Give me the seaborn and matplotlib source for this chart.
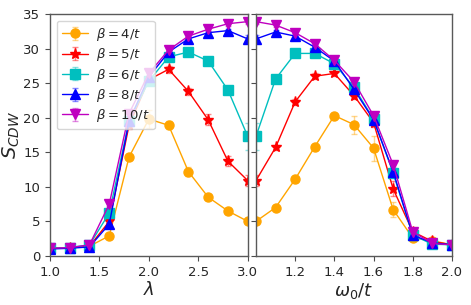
import numpy as np
import matplotlib
matplotlib.use("Agg")
import matplotlib.pyplot as plt
import seaborn as sns

# data
lam = [1.0, 1.2, 1.4, 1.6, 1.8, 2.0, 2.2, 2.4, 2.6, 2.8, 3.0]
omega = [1.0, 1.1, 1.2, 1.3, 1.4, 1.5, 1.6, 1.7, 1.8, 1.9, 2.0]
labels = [r"$\beta = 4/t$", r"$\beta = 5/t$", r"$\beta = 6/t$",
          r"$\beta = 8/t$", r"$\beta = 10/t$"]
colors = ["orange", "red", "c", "blue", "m"]
markers = ["o", "*", "s", "^", "v"]

s_lam = [
    [1.1, 1.2, 1.4, 2.9, 14.3, 19.8, 18.9, 12.2, 8.5, 6.5, 5.0],
    [1.1, 1.2, 1.4, 5.0, 18.9, 25.5, 27.0, 23.8, 19.7, 13.7, 10.9],
    [1.1, 1.2, 1.6, 6.2, 19.5, 25.3, 28.8, 29.5, 28.2, 24.0, 17.3],
    [1.0, 1.1, 1.3, 4.6, 19.5, 25.9, 29.5, 31.4, 32.3, 32.6, 31.4],
    [1.1, 1.2, 1.6, 7.5, 20.6, 26.4, 29.8, 31.8, 32.8, 33.6, 33.9],
]
e_lam = [
    [0.2, 0.2, 0.2, 0.3, 0.4, 1.3, 0.6, 0.6, 0.4, 0.4, 0.4],
    [0.2, 0.2, 0.2, 0.3, 0.6, 0.5, 0.5, 0.5, 0.8, 0.7, 0.8],
    [0.2, 0.2, 0.2, 0.4, 0.5, 0.5, 0.4, 0.4, 0.5, 0.6, 2.0],
    [0.2, 0.2, 0.2, 0.3, 0.4, 0.3, 0.3, 0.3, 0.3, 0.3, 0.5],
    [0.2, 0.2, 0.2, 0.3, 0.4, 0.3, 0.3, 0.3, 0.3, 0.3, 0.4],
]
s_omega = [
    [5.0, 7.0, 11.1, 15.8, 20.3, 19.0, 15.6, 6.7, 2.6, 2.2, 1.6],
    [10.9, 15.7, 22.3, 26.0, 26.4, 23.2, 19.3, 9.7, 3.5, 2.1, 1.6],
    [17.3, 25.6, 29.3, 29.3, 27.8, 24.4, 19.8, 12.0, 3.0, 1.7, 1.6],
    [31.4, 32.4, 31.8, 30.2, 28.2, 24.1, 19.7, 12.2, 3.0, 1.9, 1.6],
    [33.9, 33.4, 32.3, 30.7, 28.3, 25.2, 20.3, 13.2, 3.5, 1.8, 1.6],
]
e_omega = [
    [0.4, 0.3, 0.3, 0.3, 0.4, 1.3, 1.8, 1.1, 0.4, 0.3, 0.2],
    [0.8, 0.4, 0.4, 0.4, 0.4, 0.5, 0.6, 1.1, 0.4, 0.3, 0.2],
    [2.0, 0.5, 0.4, 0.4, 0.4, 0.5, 0.5, 0.6, 0.4, 0.3, 0.2],
    [0.5, 0.3, 0.3, 0.3, 0.3, 0.4, 0.4, 0.5, 0.4, 0.3, 0.2],
    [0.4, 0.3, 0.3, 0.3, 0.3, 0.4, 0.4, 0.5, 0.4, 0.3, 0.2],
]

sns.set_style("ticks")
plt.rcParams["font.family"] = ["DejaVu Sans"]
plt.rcParams["mathtext.fontset"] = "dejavusans"

fig = plt.figure(figsize=(4.71, 3.05), dpi=100)
ax1 = fig.add_axes([0.106, 0.161, 0.420, 0.793])
ax2 = fig.add_axes([0.5435, 0.161, 0.416, 0.793])

for i in range(5):
    ms = 8 if markers[i] == "*" else 6.5
    for ax, x, y, e in [(ax1, lam, s_lam[i], e_lam[i]),
                        (ax2, omega, s_omega[i], e_omega[i])]:
        ax.errorbar(x, y, yerr=e, fmt="-" + markers[i], color=colors[i],
                    ecolor=matplotlib.colors.to_rgba(colors[i], 0.45),
                    ms=ms, lw=1.0, capsize=2, elinewidth=1.0,
                    label=labels[i])

for ax in (ax1, ax2):
    ax.set_ylim(0, 35)
    ax.tick_params(labelsize=9.5, length=3.5, width=0.8, color="0.3")
    for sp in ax.spines.values():
        sp.set_color("0.35")
        sp.set_linewidth(1.0)

ax1.set_xlim(1.0, 3.0)
ax1.set_xticks([1.0, 1.5, 2.0, 2.5, 3.0])
ax1.set_yticks([0, 5, 10, 15, 20, 25, 30, 35])
ax2.set_xlim(1.0, 2.0)
ax2.set_xticks([1.2, 1.4, 1.6, 1.8, 2.0])
ax2.set_yticks([0, 5, 10, 15, 20, 25, 30, 35])
ax2.set_yticklabels([])

ax1.set_xlabel(r"$\lambda$", fontsize=13, labelpad=2)
ax2.set_xlabel(r"$\omega_0/t$", fontsize=13, labelpad=2)
ax1.set_ylabel(r"$S_{CDW}$", fontsize=14)
ax1.yaxis.set_label_coords(-0.14, 0.5)

ax1.legend(loc="upper left", fontsize=9.5, handlelength=2.0,
           borderpad=0.4, labelspacing=0.25, handletextpad=0.6)

fig.savefig("out.png", dpi=100)
